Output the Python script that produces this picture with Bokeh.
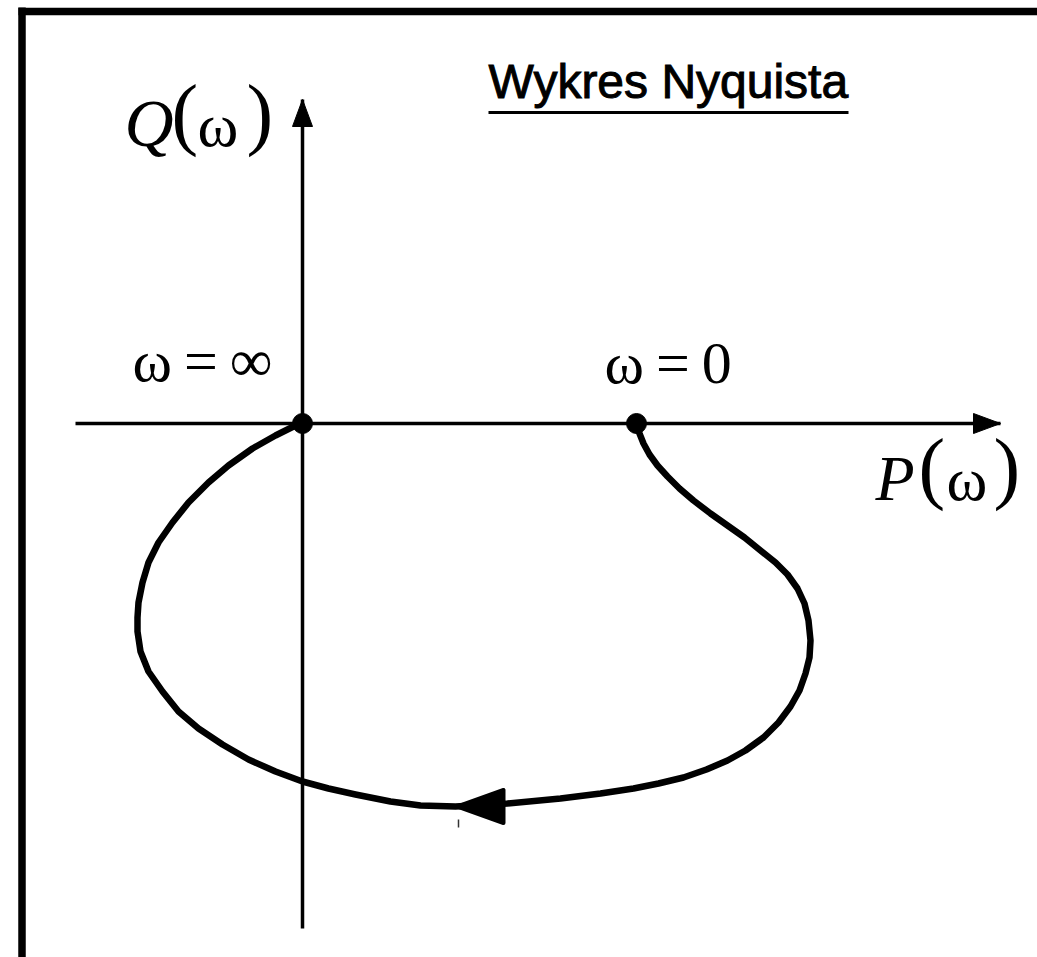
from bokeh.plotting import figure
from bokeh.models import Range1d
from bokeh.core.properties import value
from bokeh.embed import file_html
from bokeh.resources import INLINE

# ---------------- data (P = real part, Q = imaginary part) ----------------
curve_p = [3.34, 3.37, 3.41, 3.47, 3.55, 3.65, 3.77, 3.91, 4.08, 4.25, 4.42, 4.58,
           4.73, 4.85, 4.95, 5.02, 5.06, 5.08, 5.07, 5.03, 4.97, 4.88, 4.76, 4.61,
           4.43, 4.25, 4.04, 3.81, 3.56, 3.31, 2.98, 2.58, 2.05,
           1.53, 1.18, 0.88, 0.53, 0.26, 0.00, -0.27, -0.54, -0.80, -1.04, -1.24,
           -1.40, -1.54, -1.62, -1.65, -1.65, -1.64, -1.60, -1.54, -1.44, -1.30,
           -1.14, -0.94, -0.74, -0.50, -0.27, -0.07, 0.00]
curve_q = [0.00, -0.10, -0.20, -0.31, -0.42, -0.53, -0.65, -0.77, -0.90, -1.02, -1.14, -1.27,
           -1.39, -1.51, -1.65, -1.80, -1.97, -2.17, -2.34, -2.50, -2.67, -2.83, -2.99, -3.14,
           -3.27, -3.37, -3.46, -3.54, -3.60, -3.65, -3.70, -3.75, -3.80,
           -3.83, -3.82, -3.78, -3.71, -3.65, -3.58, -3.48, -3.36, -3.21, -3.05, -2.88,
           -2.68, -2.48, -2.28, -2.08, -1.94, -1.79, -1.59, -1.39, -1.19, -0.99,
           -0.79, -0.59, -0.42, -0.25, -0.12, -0.02, 0.00]

point_p = [0.00, 3.34]          # omega = inf, omega = 0
point_q = [0.00, 0.00]
point_labels = ["ω\u2009=\u2009∞", "ω\u2009=\u20090"]

arrow_index = 33                # curve point where the direction arrow tip sits

axis_p_extent = [-2.27, 6.98]   # horizontal axis start / arrow tip
axis_q_extent = [-5.05, 3.24]   # vertical axis start / arrow tip

title_text = "Wykres Nyquista"

# ---------------- figure ----------------
W, H = 1037, 957
SCALE = 100.0  # px per unit
x0, y0 = (0 - 302) / SCALE, (423 - 957) / SCALE
p = figure(width=W, height=H, output_backend="svg", toolbar_location=None,
           x_range=Range1d(x0, x0 + W / SCALE), y_range=Range1d(y0, y0 + H / SCALE),
           x_axis_type=None, y_axis_type=None, min_border=0)
p.outline_line_color = None
p.grid.visible = False
p.background_fill_color = "white"
p.border_fill_color = "white"

def bl(fs):
    # baseline correction for rendered text (data units)
    return 0.38 * fs / SCALE

# frame border (left and top edges visible)
p.line([-2.805, -2.805], [4.16, y0 - 0.2], line_color="black", line_width=7.5)
p.line([-2.84, x0 + W / SCALE + 0.2], [4.12, 4.12], line_color="black", line_width=7.5)

# axes
p.line(axis_p_extent, [0, 0], line_color="black", line_width=3.5)
p.line([0, 0], axis_q_extent, line_color="black", line_width=3.5)
ah_len, ah_half = 0.27, 0.10
tp = axis_p_extent[1]
p.patch([tp, tp - ah_len, tp - ah_len], [0, ah_half, -ah_half], color="black")
tq = axis_q_extent[1]
p.patch([0, ah_half, -ah_half], [tq, tq - ah_len, tq - ah_len], color="black")

# Nyquist curve
p.line(curve_p, curve_q, line_color="black", line_width=6.5,
       line_join="round", line_cap="round")

# direction arrow on curve
ap, aq = curve_p[arrow_index], curve_q[arrow_index]
a_len, a_half = 0.48, 0.165
p.patch([ap + 0.02, ap + a_len, ap + a_len], [aq, aq + a_half, aq - a_half],
        fill_color="black", line_color="black", line_width=4, line_join="round")
p.line([ap + 0.03, ap + 0.03], [aq - 0.13, aq - 0.21], line_color="#333333", line_width=1.5)

# points
p.scatter(point_p, point_q, size=20, color="black")

serif = value("Liberation Serif")
# point labels
fs_pt = 60
p.text([point_p[0] - 1.70, point_p[1] - 0.32], [0.40 + bl(fs_pt), 0.38 + bl(fs_pt)],
       text=point_labels, text_font=serif, text_font_size=f"{fs_pt}px", text_color="black",
       text_align="left", text_baseline="alphabetic")

# axis labels  P(ω) and Q(ω)
def axis_label(letter, xl, yb, xparen_l, xomega, xparen_r, fsl):
    fs, fsp = 62, 80
    p.text([xl], [yb + bl(fsl)], text=[letter], text_font=serif, text_font_style="italic",
           text_font_size=f"{fsl}px", text_color="black", text_baseline="alphabetic")
    p.text([xparen_l, xparen_r], [yb + 0.05 + bl(fsp), yb + 0.05 + bl(fsp)], text=["(", ")"],
           text_font=serif, text_font_size=f"{fsp}px", text_color="black",
           text_baseline="alphabetic")
    p.text([xomega], [yb + bl(fs)], text=["ω"], text_font=serif,
           text_font_size=f"{fs}px", text_color="black", text_baseline="alphabetic")

axis_label("Q", -1.78, 2.75, -1.31, -1.05, -0.56, 68)
axis_label("P", 5.73, -0.79, 6.16, 6.44, 6.91, 64)

# title with underline
fs_t = 48
p.text([1.86], [3.24 + bl(fs_t)], text=[title_text], text_font=value("Liberation Sans"),
       text_font_size=f"{fs_t}px", text_color="black", text_baseline="alphabetic",
       text_outline_color="black")
p.line([1.86, 5.46], [3.11, 3.11], line_color="black", line_width=3)

open("out.html", "w").write(file_html(p, INLINE))
